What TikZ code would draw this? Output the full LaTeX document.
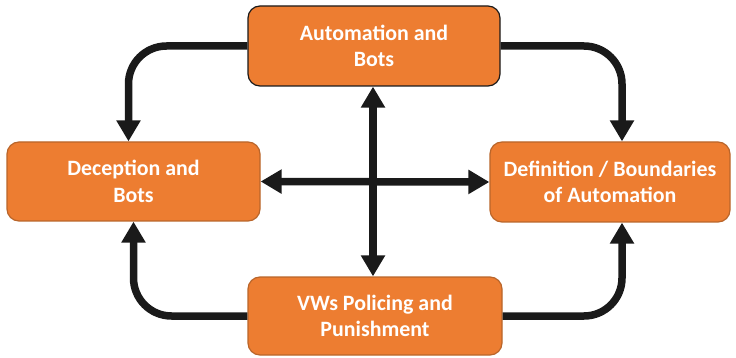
\documentclass[tikz,border=0pt]{standalone}
\usepackage{fontspec}
\setmainfont{Carlito}
\usetikzlibrary{arrows.meta}
\definecolor{boxorange}{HTML}{ED7D31}
\definecolor{boxedge}{HTML}{B9652A}
\definecolor{arrowblack}{HTML}{1A1A1A}
\begin{document}
\begin{tikzpicture}[x=1pt,y=-1pt,
  topic/.style={rectangle,rounded corners=12pt,fill=boxorange,draw=boxedge,line width=1.2pt,
    text=white,font=\bfseries\fontsize{21.9}{26.5}\selectfont,align=center,inner sep=0pt},
  flow/.style={draw=arrowblack,line width=7.5pt,-{Triangle[width=23pt,length=21pt]}},
  both/.style={draw=arrowblack,line width=7.5pt,{Triangle[width=23pt,length=21pt]}-{Triangle[width=23pt,length=21pt]}}]
\useasboundingbox (0,0) rectangle (736,358);
\coordinate (T) at (374,46);
\coordinate (L) at (133.5,181.5);
\coordinate (R) at (610,182);
\coordinate (B) at (375,316);

\node[topic,draw=arrowblack,minimum width=252pt,minimum height=80pt] (T1) at (T) {Automation and\\Bots};
\node[topic,minimum width=253pt,minimum height=79pt] (L1) at (L) {Deception and\\Bots};
\node[topic,minimum width=240pt,minimum height=80pt] (R1) at (R) {Definition / Boundaries\\of Automation};
\node[topic,minimum width=254pt,minimum height=78pt] (B1) at (B) {VWs Policing and\\Punishment};

\draw[flow,rounded corners=38pt] (T1.west) -| ([xshift=-5pt]L1.north);
\draw[flow,rounded corners=38pt] (T1.east) -| ([xshift=12pt]R1.north);
\draw[flow,rounded corners=38pt] (B1.west) -| (L1.south);
\draw[flow,rounded corners=38pt] (B1.east) -| ([xshift=12pt]R1.south);
\draw[both] ([xshift=-1pt]T1.south) -- ([xshift=-2pt]B1.north);
\draw[both] (L1.east) -- (R1.west);
\end{tikzpicture}
\end{document}
